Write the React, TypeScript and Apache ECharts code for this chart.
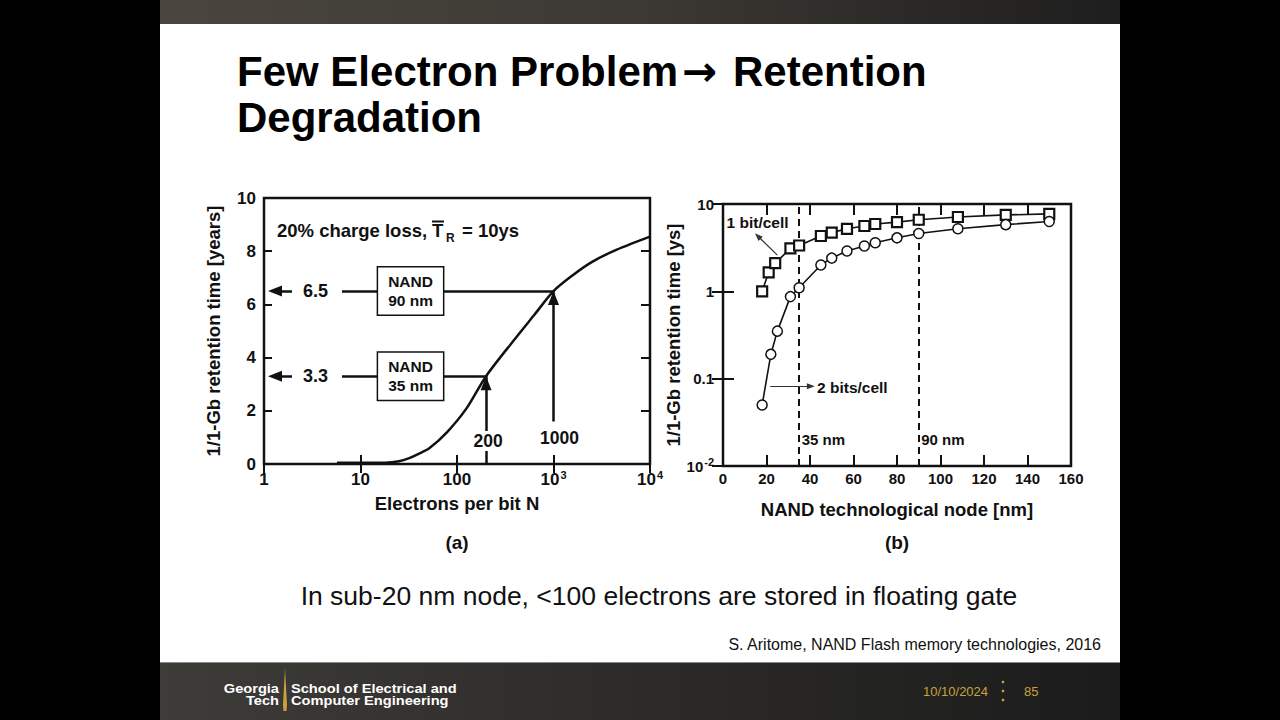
import React, { useEffect, useRef } from 'react';
import * as echarts from 'echarts';

const FONT = '"Liberation Sans", Arial, Helvetica, sans-serif';
const INK = '#111111';
const GOLD = '#c9a23e';

// Panel (a): 1-Gb retention time vs electrons stored per bit
const electronsN = [5.7, 10, 18, 25, 32, 40, 52, 79, 126, 200, 398, 631, 1000, 1585, 2512, 4467, 10000];
const retentionYears = [0.05, 0.05, 0.05, 0.1, 0.22, 0.38, 0.6, 1.2, 2.1, 3.3, 4.7, 5.6, 6.5, 7.1, 7.6, 8.05, 8.55];

// Read-off points for the two NAND generations
const nodeLabels = ['NAND\n90 nm', 'NAND\n35 nm'];
const nodeElectrons = [1000, 200];
const nodeRetention = [6.5, 3.3];

// Panel (b): retention vs technology node
const nodeNm1 = [18, 21, 24, 31, 35, 45, 50, 57, 65, 70, 80, 90, 108, 130, 150];
const oneBitYs = [1.0, 1.65, 2.1, 3.1, 3.35, 4.3, 4.7, 5.2, 5.6, 5.9, 6.2, 6.6, 7.1, 7.5, 7.7];
const nodeNm2 = [18, 22, 25, 31, 35, 45, 50, 57, 65, 70, 80, 90, 108, 130, 150];
const twoBitYs = [0.05, 0.19, 0.35, 0.87, 1.1, 2.0, 2.4, 2.9, 3.3, 3.6, 4.1, 4.6, 5.2, 5.8, 6.3];
const markedNodes = [35, 90];
const cellLabels = ['1 bit/cell', '2 bits/cell'];

const zip = (xs: number[], ys: number[]) => xs.map((x, i) => [x, ys[i]]);

const txt = (
  x: number,
  y: number,
  text: string,
  size: number,
  opts: { weight?: string; fill?: string; align?: string; scaleX?: number; rich?: any } = {}
) => ({
  type: 'text',
  x,
  y,
  silent: true,
  scaleX: opts.scaleX ?? 1,
  style: {
    text,
    fontFamily: FONT,
    fontSize: size,
    fontWeight: opts.weight ?? 'normal',
    fill: opts.fill ?? INK,
    align: opts.align ?? 'left',
    textAlign: opts.align ?? 'left',
    verticalAlign: 'middle',
    textVerticalAlign: 'middle',
    ...(opts.rich ? { rich: opts.rich } : {}),
  },
});

const richNum = (size: number) => ({
  n: { fontFamily: FONT, fontSize: size, fontWeight: 'bold', color: INK, lineHeight: size + 4 },
  s: { fontFamily: FONT, fontSize: 11, fontWeight: 'bold', color: INK, verticalAlign: 'top', lineHeight: 11, padding: [0, 0, 0, 1] },
});

const tickOnly = (extra: any) => ({
  axisLine: { show: false },
  axisLabel: { show: false },
  splitLine: { show: false },
  ...extra,
});

const nameStyle = { fontFamily: FONT, fontSize: 18.5, fontWeight: 'bold', color: INK };
// invisible anchor symbols that only carry a label
const hidden = { color: 'rgba(0,0,0,0)', opacity: 1 };

function buildOption() {
  const tickA = { inside: true, length: 9, lineStyle: { color: INK, width: 2 } };
  const tickB = { inside: true, length: 11, lineStyle: { color: INK, width: 2 } };

  const xLog = { type: 'log', logBase: 10, min: 1, max: 10000 };
  const yLog = { type: 'log', logBase: 10, min: 0.01, max: 10 };
  const xNode = { type: 'value', min: 0, max: 160, interval: 20 };
  const yYears = { type: 'value', min: 0, max: 10, interval: 2 };

  const headA = [11, 14];

  return {
    animation: false,
    backgroundColor: 'transparent',
    grid: [
      { left: 264, top: 198, width: 386, height: 266, show: true, borderColor: INK, borderWidth: 2.5, backgroundColor: 'transparent' },
      { left: 723, top: 204, width: 348, height: 262, show: true, borderColor: INK, borderWidth: 2.5, backgroundColor: 'transparent' },
    ],
    xAxis: [
      {
        ...xLog,
        gridIndex: 0,
        position: 'bottom',
        axisLine: { show: false },
        axisTick: tickA,
        splitLine: { show: false },
        axisLabel: {
          margin: 5,
          showMinLabel: true,
          showMaxLabel: true,
          formatter: (v: number) => {
            const e = Math.round(Math.log10(v));
            return e < 3 ? `{n|${Math.pow(10, e)}}` : `{n|10}{s|${e}}`;
          },
          rich: richNum(17),
        },
        name: 'Electrons per bit N',
        nameLocation: 'middle',
        nameGap: 30,
        nameTextStyle: nameStyle,
      },
      tickOnly({ ...xLog, gridIndex: 0, position: 'top', axisTick: tickA }),
      {
        ...xNode,
        gridIndex: 1,
        position: 'bottom',
        axisLine: { show: false },
        axisTick: tickB,
        splitLine: { show: false },
        axisLabel: { margin: 5, fontFamily: FONT, fontSize: 15, fontWeight: 'bold', color: INK },
        name: 'NAND technological node [nm]',
        nameLocation: 'middle',
        nameGap: 34,
        nameTextStyle: nameStyle,
      },
      tickOnly({ ...xNode, gridIndex: 1, position: 'top', axisTick: tickB }),
    ],
    yAxis: [
      {
        ...yYears,
        gridIndex: 0,
        position: 'left',
        axisLine: { show: false },
        axisTick: { ...tickA, length: 8 },
        splitLine: { show: false },
        axisLabel: { margin: 8, fontFamily: FONT, fontSize: 17, fontWeight: 'bold', color: INK },
        name: '1/1-Gb retention time [years]',
        nameLocation: 'middle',
        nameRotate: 90,
        nameGap: 41,
        nameTextStyle: nameStyle,
      },
      tickOnly({ ...yYears, gridIndex: 0, position: 'right', axisTick: { ...tickA, length: 9 } }),
      {
        ...yLog,
        gridIndex: 1,
        position: 'left',
        axisLine: { show: false },
        axisTick: tickB,
        splitLine: { show: false },
        axisLabel: {
          margin: 9,
          showMinLabel: true,
          showMaxLabel: true,
          formatter: (v: number) => {
            const e = Math.round(Math.log10(v));
            if (e >= 0) return `{n|${Math.pow(10, e)}}`;
            if (e === -1) return '{n|0.1}';
            return `{n|10}{s|${e}}`;
          },
          rich: richNum(15),
        },
        name: '1/1-Gb retention time [ys]',
        nameLocation: 'middle',
        nameRotate: 90,
        nameGap: 37,
        nameTextStyle: nameStyle,
      },
      tickOnly({ ...yLog, gridIndex: 1, position: 'right', axisTick: tickB }),
    ],
    series: [
      // ---- panel (a) ----
      {
        type: 'line',
        xAxisIndex: 0,
        yAxisIndex: 0,
        data: zip(electronsN, retentionYears),
        smooth: 0.3,
        symbol: 'none',
        showSymbol: false,
        lineStyle: { color: INK, width: 2.5 },
        silent: true,
        z: 3,
      },
      {
        // read-off lines and arrow shafts
        type: 'lines',
        coordinateSystem: 'cartesian2d',
        xAxisIndex: 0,
        yAxisIndex: 0,
        silent: true,
        z: 2,
        lineStyle: { color: INK, width: 2.5, opacity: 1 },
        data: [
          ...nodeRetention.map((v, i) => ({ coords: [[6.43, v], [nodeElectrons[i], v]] })),
          ...nodeRetention.map((v) => ({ coords: [[1.95, v], [1.3, v]] })),
          ...nodeElectrons.map((n, i) => ({ coords: [[n, i === 0 ? 1.6 : 0], [n, nodeRetention[i]]] })),
        ],
      },
      {
        // arrow heads
        type: 'scatter',
        xAxisIndex: 0,
        yAxisIndex: 0,
        silent: true,
        z: 4,
        symbol: 'triangle',
        itemStyle: { color: INK, opacity: 1 },
        data: [
          ...nodeRetention.map((v) => ({ value: [1.3, v], symbolSize: headA, symbolRotate: 90 })),
          ...nodeElectrons.map((n, i) => ({ value: [n, nodeRetention[i]], symbolSize: headA, symbolOffset: [0, 7] })),
        ],
      },
      {
        // retention values at the left
        type: 'scatter',
        xAxisIndex: 0,
        yAxisIndex: 0,
        silent: true,
        z: 5,
        symbolSize: 1,
        itemStyle: hidden,
        data: nodeRetention.map((v) => [3.42, v]),
        label: {
          show: true,
          position: 'inside',
          formatter: (p: any) => String(p.value[1]),
          fontFamily: FONT,
          fontSize: 18,
          fontWeight: 'bold',
          color: INK,
        },
      },
      {
        // boxed node names
        type: 'scatter',
        xAxisIndex: 0,
        yAxisIndex: 0,
        silent: true,
        z: 6,
        symbolSize: 1,
        itemStyle: hidden,
        data: nodeLabels.map((name, i) => ({ name, value: [33, nodeRetention[i]] })),
        label: {
          show: true,
          position: 'inside',
          formatter: '{b}',
          fontFamily: FONT,
          fontSize: 15.5,
          fontWeight: 'bold',
          color: INK,
          lineHeight: 19,
          align: 'center',
          backgroundColor: '#ffffff',
          borderColor: INK,
          borderWidth: 1.5,
          padding: [5, 10, 4, 10],
        },
      },
      {
        // electron counts under the arrows
        type: 'scatter',
        xAxisIndex: 0,
        yAxisIndex: 0,
        silent: true,
        z: 6,
        symbolSize: 1,
        itemStyle: hidden,
        data: nodeElectrons.map((n, i) => ({
          value: [n, i === 0 ? 0.98 : 0.86],
          label: { offset: [i === 0 ? 6 : 2, 0] },
        })),
        label: {
          show: true,
          position: 'inside',
          formatter: (p: any) => String(p.value[0]),
          fontFamily: FONT,
          fontSize: 17.5,
          fontWeight: 'bold',
          color: INK,
          backgroundColor: '#ffffff',
          padding: [1, 2],
        },
      },
      // ---- panel (b) ----
      {
        type: 'lines',
        coordinateSystem: 'cartesian2d',
        xAxisIndex: 2,
        yAxisIndex: 2,
        silent: true,
        z: 1,
        lineStyle: { color: INK, width: 2, opacity: 1, type: [7, 5] },
        data: markedNodes.map((v) => ({ coords: [[v, 0.01], [v, 10]] })),
      },
      {
        name: cellLabels[0],
        type: 'line',
        xAxisIndex: 2,
        yAxisIndex: 2,
        data: zip(nodeNm1, oneBitYs),
        symbol: 'rect',
        symbolSize: 10,
        itemStyle: { color: '#ffffff', borderColor: INK, borderWidth: 2.2 },
        lineStyle: { color: INK, width: 1.6 },
        silent: true,
        z: 4,
      },
      {
        name: cellLabels[1],
        type: 'line',
        xAxisIndex: 2,
        yAxisIndex: 2,
        data: zip(nodeNm2, twoBitYs),
        symbol: 'circle',
        symbolSize: 10,
        itemStyle: { color: '#ffffff', borderColor: INK, borderWidth: 1.5 },
        lineStyle: { color: INK, width: 1.6 },
        silent: true,
        z: 4,
      },
      {
        // node labels next to the dashed lines
        type: 'scatter',
        xAxisIndex: 2,
        yAxisIndex: 2,
        silent: true,
        z: 5,
        symbolSize: 1,
        itemStyle: hidden,
        data: markedNodes.map((v) => [v, 0.02]),
        label: {
          show: true,
          position: 'right',
          distance: 2,
          formatter: (p: any) => `${p.value[0]} nm`,
          fontFamily: FONT,
          fontSize: 15,
          fontWeight: 'bold',
          color: INK,
        },
      },
      {
        // pointer shafts for the curve names
        type: 'lines',
        coordinateSystem: 'cartesian2d',
        xAxisIndex: 2,
        yAxisIndex: 2,
        silent: true,
        z: 3,
        lineStyle: { color: '#333333', width: 1.2, opacity: 1 },
        data: [
          { coords: [[25, 2.6], [16, 4.3]] },
          { coords: [[21.7, 0.082], [40.4, 0.082]] },
        ],
      },
      {
        type: 'scatter',
        xAxisIndex: 2,
        yAxisIndex: 2,
        silent: true,
        z: 3,
        symbol: 'triangle',
        itemStyle: { color: '#333333', opacity: 1 },
        data: [
          { value: [16, 4.3], symbolSize: [6, 8], symbolRotate: 45 },
          { value: [40.4, 0.082], symbolSize: [6, 8], symbolRotate: -90 },
        ],
      },
      {
        type: 'scatter',
        xAxisIndex: 2,
        yAxisIndex: 2,
        silent: true,
        z: 5,
        symbolSize: 1,
        itemStyle: hidden,
        data: [
          { name: cellLabels[0], value: [1.4, 6.06] },
          { name: cellLabels[1], value: [43, 0.079] },
        ],
        label: {
          show: true,
          position: 'right',
          distance: 0,
          formatter: '{b}',
          fontFamily: FONT,
          fontSize: 15.5,
          fontWeight: 'bold',
          color: INK,
        },
      },
    ],
    graphic: [
      // slide title
      txt(237, 71, '{a|Few Electron Problem}{b|\u2192}{a| Retention}', 42, {
        weight: 'bold',
        fill: '#000',
        rich: {
          a: { fontFamily: FONT, fontSize: 42, fontWeight: 'bold', fill: '#000', color: '#000' },
          b: { fontFamily: '"DejaVu Sans", sans-serif', fontSize: 42, fontWeight: 'bold', fill: '#000', color: '#000', padding: [0, 4, 0, 4] },
        },
      }),
      txt(237, 117, 'Degradation', 42, { weight: 'bold', fill: '#000' }),
      // panel (a) condition note
      txt(277, 230.5, '20% charge loss,', 18.5, { weight: 'bold' }),
      txt(432, 230.5, 'T', 18.5, { weight: 'bold' }),
      txt(446, 237.5, 'R', 12, { weight: 'bold' }),
      txt(462, 230.5, '= 10ys', 18.5, { weight: 'bold' }),
      {
        type: 'line',
        silent: true,
        shape: { x1: 432, y1: 221.5, x2: 444, y2: 221.5 },
        style: { stroke: INK, lineWidth: 2 },
      },
      // panel captions
      txt(457, 542, '(a)', 19, { weight: 'bold', align: 'center' }),
      txt(897, 542, '(b)', 19, { weight: 'bold', align: 'center' }),
      // body line and source
      txt(659, 596, 'In sub-20 nm node, <100 electrons are stored in floating gate', 26.5, { align: 'center' }),
      txt(1101, 644, 'S. Aritome, NAND Flash memory technologies, 2016', 16, { align: 'right' }),
      // footer
      txt(279, 689, 'Georgia', 12.5, { weight: 'bold', fill: '#ffffff', align: 'right', scaleX: 1.17 }),
      txt(279, 701, 'Tech', 12.5, { weight: 'bold', fill: '#ffffff', align: 'right', scaleX: 1.17 }),
      {
        type: 'polygon',
        silent: true,
        shape: { points: [[285, 668], [287, 705], [286.5, 711], [283.5, 711], [283, 705]] },
        style: { fill: GOLD },
      },
      txt(291, 689, 'School of Electrical and', 12.5, { weight: 'bold', fill: '#ffffff', scaleX: 1.17 }),
      txt(291, 701, 'Computer Engineering', 12.5, { weight: 'bold', fill: '#ffffff', scaleX: 1.17 }),
      txt(923, 691, '10/10/2024', 13, { fill: GOLD }),
      { type: 'circle', silent: true, shape: { cx: 1003, cy: 682, r: 1.3 }, style: { fill: GOLD } },
      { type: 'circle', silent: true, shape: { cx: 1003, cy: 691, r: 1.3 }, style: { fill: GOLD } },
      { type: 'circle', silent: true, shape: { cx: 1003, cy: 700, r: 1.3 }, style: { fill: GOLD } },
      txt(1024, 691, '85', 13, { fill: GOLD }),
    ],
  };
}

export default function App() {
  const ref = useRef<HTMLDivElement>(null);

  useEffect(() => {
    if (!ref.current) return;
    const chart = echarts.init(ref.current, null, { renderer: 'svg' });
    chart.setOption(buildOption() as any);
    return () => chart.dispose();
  }, []);

  return (
    <div style={{ position: 'absolute', left: 0, top: 0, width: 1280, height: 720, background: '#000', overflow: 'hidden' }}>
      <div
        style={{
          position: 'absolute',
          left: 160,
          top: 0,
          width: 960,
          height: 24,
          background: 'linear-gradient(90deg, #4a463f 0%, #3c3833 50%, #1e1e1e 100%)',
        }}
      />
      <div style={{ position: 'absolute', left: 160, top: 24, width: 960, height: 638, background: '#ffffff' }} />
      <div
        style={{
          position: 'absolute',
          left: 160,
          top: 662,
          width: 960,
          height: 58,
          boxSizing: 'border-box',
          borderTop: '1px solid #8a8a8a',
          background: 'linear-gradient(90deg, #3e3c39 0%, #2c2b29 50%, #1b1b1b 100%)',
        }}
      />
      <div ref={ref} style={{ position: 'absolute', left: 0, top: 0, width: 1280, height: 720 }} />
    </div>
  );
}
